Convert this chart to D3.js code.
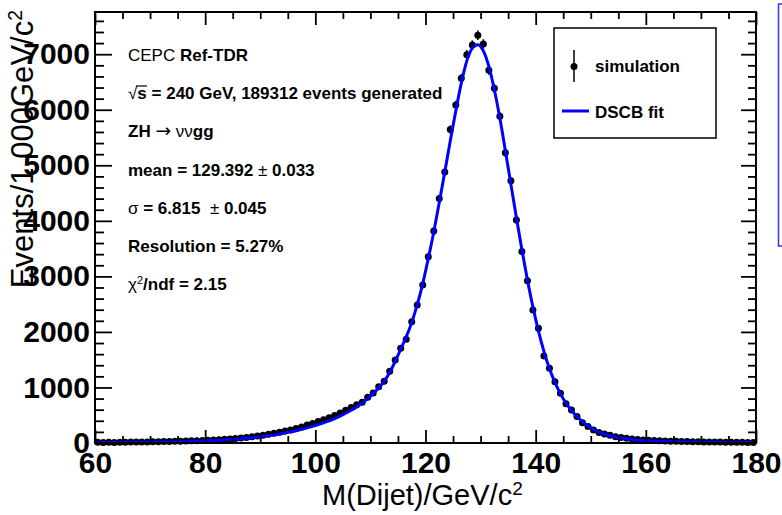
<!DOCTYPE html>
<html>
<head>
<meta charset="utf-8">
<script src="https://d3js.org/d3.v7.min.js"></script>
<style>
  body { margin: 0; background: #fff; }
  text { font-family: "Liberation Sans", Arial, Helvetica, sans-serif; white-space: pre; }
</style>
</head>
<body>
<script>
// dijet mass histogram, 1 GeV bins from 60 to 180
var massLow = 60;
var binWidth = 1;

// events per bin (bins 60-61, 61-62, ...)
var events = [
  12, 10, 14, 11, 15, 13, 17, 16, 20, 18,
  22, 24, 27, 26, 30, 33, 36, 40, 42, 47,
  50, 56, 60, 68, 72, 80, 88, 100, 112, 128,
  140, 158, 176, 192, 214, 236, 262, 290, 322, 352,
  385, 420, 455, 495, 540, 590, 640, 690, 735, 825,
  900, 1015, 1110, 1290, 1495, 1705, 1870, 2185, 2485, 2845,
  3355, 3815, 4400, 4880, 5645, 6085, 6565, 6990, 7165, 7340,
  7185, 6710, 6385, 5885, 5225, 4720, 4015, 3450, 2920, 2395,
  2065, 1565, 1345, 1105, 895, 705, 595, 475, 365, 295,
  235, 190, 160, 138, 112, 98, 84, 72, 62, 54,
  50, 44, 40, 36, 33, 30, 28, 25, 23, 22,
  20, 18, 17, 16, 15, 13, 14, 12, 11, 10
];

// DSCB fit curve at the bin centres
var fitValues = [
  7, 8, 8, 9, 9, 10, 11, 12, 13, 14,
  15, 16, 18, 20, 22, 24, 26, 29, 32, 36,
  40, 44, 49, 55, 61, 68, 76, 85, 95, 106,
  118, 131, 146, 162, 180, 200, 222, 246, 272, 300,
  330, 365, 400, 440, 485, 535, 590, 650, 720, 800,
  890, 990, 1110, 1270, 1470, 1690, 1910, 2170, 2490, 2870,
  3320, 3800, 4330, 4880, 5440, 5980, 6480, 6880, 7110, 7170,
  7060, 6780, 6360, 5850, 5260, 4660, 4060, 3480, 2940, 2450,
  2020, 1650, 1340, 1090, 885, 720, 585, 475, 385, 310,
  248, 198, 160, 130, 107, 89, 75, 64, 55, 48,
  42, 37, 33, 30, 27, 24, 22, 20, 18, 17,
  15, 14, 13, 12, 11, 10, 10, 9, 9, 8
];

// axis ticks
var xMajor = [60, 80, 100, 120, 140, 160, 180];
var xMinor = [65, 70, 75, 85, 90, 95, 105, 110, 115, 125, 130, 135, 145, 150, 155, 165, 170, 175];
var yMajor = [0, 1000, 2000, 3000, 4000, 5000, 6000, 7000];
var yMinor = [200, 400, 600, 800, 1200, 1400, 1600, 1800, 2200, 2400, 2600, 2800,
              3200, 3400, 3600, 3800, 4200, 4400, 4600, 4800, 5200, 5400, 5600, 5800,
              6200, 6400, 6600, 6800, 7200, 7400, 7600];

// text in the pad, one list of pieces per line
var infoLines = [
  [{t: "CEPC "}, {t: "Ref-TDR", b: true}],
  [{t: "√"}, {t: "s = 240 GeV, 189312 events generated", b: true}],
  [{t: "ZH", b: true}, {t: " "}, {t: "→", sym: true}, {t: " "}, {t: "νν"}, {t: "gg", b: true}],
  [{t: "mean = 129.392 ", b: true}, {t: "±"}, {t: " 0.033", b: true}],
  [{t: "σ"}, {t: " = 6.815  ", b: true}, {t: "±"}, {t: " 0.045", b: true}],
  [{t: "Resolution = 5.27%", b: true}],
  [{t: "χ"}, {t: "2", sup: true}, {t: "/ndf = 2.15", b: true}]
];

var width = 782;
var height = 515;
var padLeft = 95, padRight = 756, padTop = 12, padBottom = 443;

var svg = d3.select("body")
            .append("svg")
            .attr("width", width)
            .attr("height", height);

svg.append("rect")
   .attr("width", width)
   .attr("height", height)
   .attr("fill", "#fff");

var xScale = d3.scaleLinear()
               .domain([60, 180])
               .range([padLeft, padRight]);

var yScale = d3.scaleLinear()
               .domain([0, 7760])
               .range([padBottom, padTop]);

// the bins as objects
var bins = events.map(function(d, i) {
  return {x: massLow + (i + 0.5) * binWidth, y: d, err: Math.sqrt(d), fit: fitValues[i]};
});

// simulation points with error bars
var pts = svg.append("g");
pts.selectAll("line.ey")
   .data(bins)
   .enter()
   .append("line")
   .attr("x1", function(d) { return xScale(d.x); })
   .attr("x2", function(d) { return xScale(d.x); })
   .attr("y1", function(d) { return yScale(d.y + d.err); })
   .attr("y2", function(d) { return yScale(d.y - d.err); })
   .attr("stroke", "#000")
   .attr("stroke-width", 1.5);

pts.selectAll("line.ex")
   .data(bins)
   .enter()
   .append("line")
   .attr("x1", function(d) { return xScale(d.x - binWidth / 2); })
   .attr("x2", function(d) { return xScale(d.x + binWidth / 2); })
   .attr("y1", function(d) { return yScale(d.y); })
   .attr("y2", function(d) { return yScale(d.y); })
   .attr("stroke", "#000")
   .attr("stroke-width", 1.5);

pts.selectAll("circle")
   .data(bins)
   .enter()
   .append("circle")
   .attr("cx", function(d) { return xScale(d.x); })
   .attr("cy", function(d) { return yScale(d.y); })
   .attr("r", 3.5)
   .attr("fill", "#000");

// fit curve
var fitLine = d3.line()
                .x(function(d) { return xScale(d.x); })
                .y(function(d) { return yScale(d.fit); })
                .curve(d3.curveMonotoneX);

svg.append("path")
   .datum(bins)
   .attr("d", fitLine)
   .attr("fill", "none")
   .attr("stroke", "#0000ff")
   .attr("stroke-width", 3);

// axes, ticks drawn inwards like ROOT
function styleAxis(g) {
  g.select(".domain").remove();
  g.selectAll(".tick line").attr("stroke", "#000").attr("stroke-width", 1.8);
}

svg.append("g")
   .attr("transform", "translate(0," + padBottom + ")")
   .call(d3.axisBottom(xScale).tickValues(xMinor).tickSizeInner(-7).tickSizeOuter(0).tickFormat(""))
   .call(styleAxis);

var xAx = svg.append("g")
   .attr("transform", "translate(0," + padBottom + ")")
   .call(d3.axisBottom(xScale).tickValues(xMajor).tickSizeInner(-13).tickSizeOuter(0).tickPadding(9))
   .call(styleAxis);
xAx.selectAll("text")
   .style("font-family", "Liberation Sans, Arial, sans-serif")
   .style("font-size", "30px")
   .style("font-weight", "bold")
   .attr("fill", "#000");

svg.append("g")
   .attr("transform", "translate(0," + padTop + ")")
   .call(d3.axisTop(xScale).tickValues(xMinor).tickSizeInner(-7).tickSizeOuter(0).tickFormat(""))
   .call(styleAxis);

svg.append("g")
   .attr("transform", "translate(0," + padTop + ")")
   .call(d3.axisTop(xScale).tickValues(xMajor).tickSizeInner(-13).tickSizeOuter(0).tickFormat(""))
   .call(styleAxis);

svg.append("g")
   .attr("transform", "translate(" + padLeft + ",0)")
   .call(d3.axisLeft(yScale).tickValues(yMinor).tickSizeInner(-9).tickSizeOuter(0).tickFormat(""))
   .call(styleAxis);

var yAx = svg.append("g")
   .attr("transform", "translate(" + padLeft + ",0)")
   .call(d3.axisLeft(yScale).tickValues(yMajor).tickSizeInner(-17).tickSizeOuter(0).tickPadding(5).tickFormat(d3.format("d")))
   .call(styleAxis);
yAx.selectAll("text")
   .style("font-family", "Liberation Sans, Arial, sans-serif")
   .style("font-size", "30px")
   .style("font-weight", "bold")
   .attr("fill", "#000");

svg.append("g")
   .attr("transform", "translate(" + padRight + ",0)")
   .call(d3.axisRight(yScale).tickValues(yMinor).tickSizeInner(-8).tickSizeOuter(0).tickFormat(""))
   .call(styleAxis);

svg.append("g")
   .attr("transform", "translate(" + padRight + ",0)")
   .call(d3.axisRight(yScale).tickValues(yMajor).tickSizeInner(-15).tickSizeOuter(0).tickFormat(""))
   .call(styleAxis);

// frame
svg.append("rect")
   .attr("x", padLeft)
   .attr("y", padTop)
   .attr("width", padRight - padLeft)
   .attr("height", padBottom - padTop)
   .attr("fill", "none")
   .attr("stroke", "#000")
   .attr("stroke-width", 2);

// writes one line made of normal, bold and superscript pieces
function richText(g, x, y, pieces, size) {
  var t = g.append("text")
           .attr("x", x)
           .attr("y", y)
           .style("font-size", size + "px")
           .attr("fill", "#000");
  pieces.forEach(function(p) {
    var s = t.append("tspan")
             .text(p.t)
             .style("font-weight", p.b ? "bold" : "normal");
    if (p.sup) {
      s.attr("baseline-shift", "super").style("font-size", (size * 0.65) + "px");
    }
    if (p.sym) {
      s.style("font-family", "DejaVu Sans").style("font-size", (size * 1.1) + "px");
    }
  });
  return t;
}

var info = svg.append("g");
infoLines.forEach(function(line, i) {
  richText(info, 128, 61 + i * 38.2, line, 17);
});

// overline of the square root
info.append("line")
    .attr("x1", 136).attr("x2", 147)
    .attr("y1", 86).attr("y2", 86)
    .attr("stroke", "#000").attr("stroke-width", 1.2);

// legend
var legend = svg.append("g");
legend.append("rect")
      .attr("x", 554).attr("y", 28)
      .attr("width", 162).attr("height", 110)
      .attr("fill", "#fff")
      .attr("stroke", "#000")
      .attr("stroke-width", 1.5);
legend.append("line")
      .attr("x1", 574).attr("x2", 574)
      .attr("y1", 50).attr("y2", 82)
      .attr("stroke", "#000").attr("stroke-width", 1.5);
legend.append("circle")
      .attr("cx", 574).attr("cy", 66.5).attr("r", 3.5)
      .attr("fill", "#000");
richText(legend, 595, 72, [{t: "simulation", b: true}], 17);
legend.append("line")
      .attr("x1", 562).attr("x2", 589)
      .attr("y1", 111).attr("y2", 111)
      .attr("stroke", "#0000ff").attr("stroke-width", 3);
richText(legend, 595, 118, [{t: "DSCB fit", b: true}], 17);

// axis titles
var xTitle = svg.append("text")
   .attr("x", 322)
   .attr("y", 505)
   .style("font-size", "29px")
   .attr("fill", "#000");
xTitle.append("tspan").text("M(Dijet)/GeV/c");
xTitle.append("tspan").text("2").attr("baseline-shift", "super").style("font-size", "19px");

var yTitle = svg.append("text")
   .attr("transform", "translate(33,10) rotate(-90) scale(0.97,1)")
   .attr("text-anchor", "end")
   .style("font-size", "32px")
   .attr("fill", "#000");
yTitle.append("tspan").text("Events/1.000GeV/c");
yTitle.append("tspan").text("2").attr("baseline-shift", "super").style("font-size", "20px");

// edge of the neighbouring pad on the right
svg.append("path")
   .attr("d", "M782,4H778.5V246H782")
   .attr("fill", "none")
   .attr("stroke", "#3030ff")
   .attr("stroke-width", 1.5);
</script>
</body>
</html>
